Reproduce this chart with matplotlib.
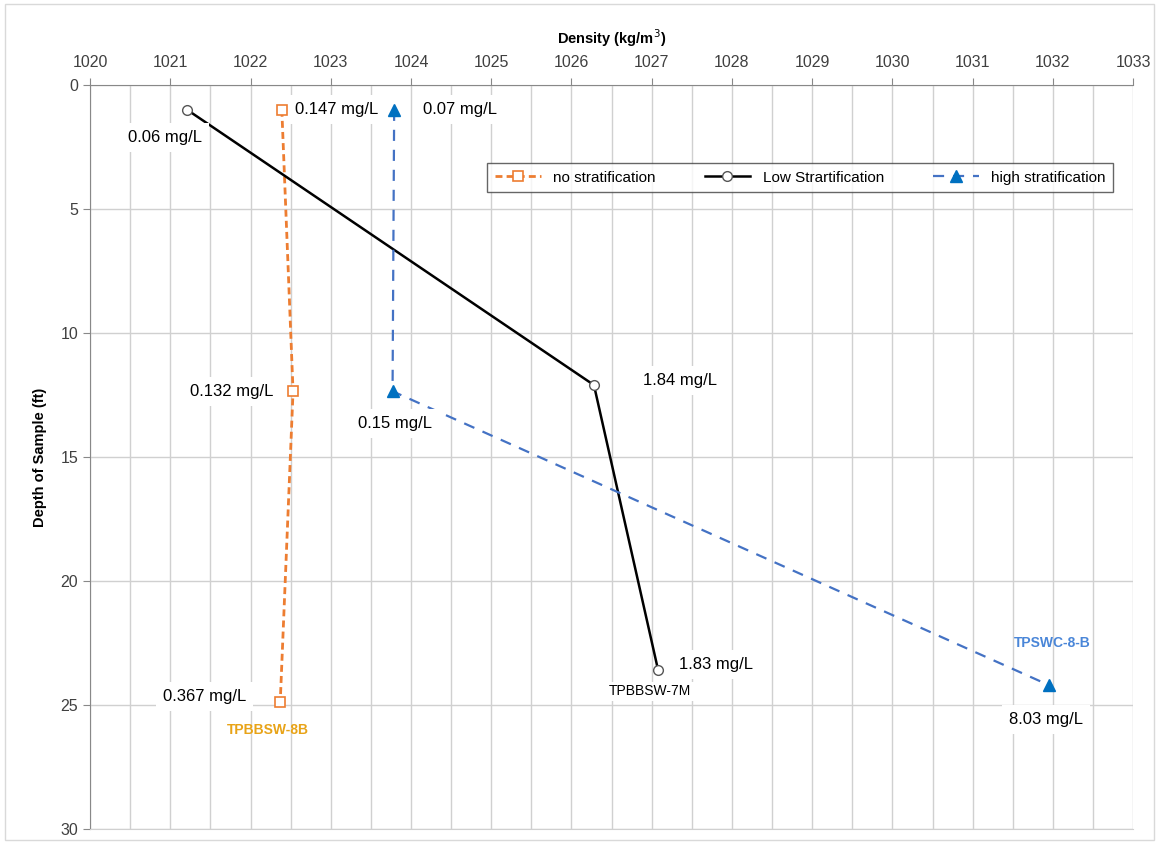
import matplotlib.pyplot as plt
from matplotlib.patches import Rectangle

plt.rcParams['font.family'] = ['Liberation Sans', 'DejaVu Sans']

# datos
no_strat_x = [1022.39, 1022.53, 1022.37]
no_strat_y = [1.0, 12.35, 24.9]
low_strat_x = [1021.21, 1026.28, 1027.08]
low_strat_y = [1.0, 12.1, 23.6]
high_strat_x = [1023.79, 1023.77, 1031.95]
high_strat_y = [1.0, 12.35, 24.2]

# etiquetas de concentracion
etiquetas = ['0.147 mg/L', '0.132 mg/L', '0.367 mg/L',
             '0.06 mg/L', '1.84 mg/L', '1.83 mg/L',
             '0.07 mg/L', '0.15 mg/L', '8.03 mg/L']
etiq_x = [1023.07, 1021.76, 1021.43,
          1020.93, 1027.35, 1027.80,
          1024.61, 1023.80, 1031.92]
etiq_y = [1.0, 12.35, 24.65,
          2.1, 11.9, 23.35,
          1.0, 13.65, 25.6]

fig = plt.figure(figsize=(11.59, 8.44), dpi=100)
ax = fig.add_axes([0.0777, 0.0178, 0.9, 0.8815])

# borde exterior
fig.patches.append(Rectangle((0.004, 0.005), 0.992, 0.99, transform=fig.transFigure,
                             fill=False, edgecolor='#d9d9d9', linewidth=1))

ax.plot(no_strat_x, no_strat_y, color='#ED7D31', linestyle=(0, (2.5, 1.5)), linewidth=2,
        marker='s', markersize=7, markerfacecolor='white', markeredgecolor='#ED7D31',
        markeredgewidth=1.2, label='no stratification', zorder=3)
ax.plot(low_strat_x, low_strat_y, color='black', linestyle='-', linewidth=1.8,
        marker='o', markersize=7, markerfacecolor='white', markeredgecolor='#555555',
        markeredgewidth=1, label='Low Strartification', zorder=3)
ax.plot(high_strat_x, high_strat_y, color='#4472C4', linestyle=(0, (5, 4)), linewidth=1.6,
        marker='^', markersize=8, markerfacecolor='#0070C0', markeredgecolor='#0070C0',
        label='high stratification', zorder=3)

for t, x, y in zip(etiquetas, etiq_x, etiq_y):
    ax.text(x, y, t, ha='center', va='center', fontsize=12, zorder=4,
            bbox=dict(facecolor='white', edgecolor='none', pad=5))

ax.text(1022.22, 26.0, 'TPBBSW-8B', color='#E8A317', fontsize=10, fontweight='bold',
        ha='center', va='center', zorder=4)
ax.text(1026.98, 24.45, 'TPBBSW-7M', color='black', fontsize=10,
        ha='center', va='center', zorder=4,
        bbox=dict(facecolor='white', edgecolor='none', pad=2))
ax.text(1031.99, 22.5, 'TPSWC-8-B', color='#4A86D8', fontsize=10, fontweight='bold',
        ha='center', va='center', zorder=4)

ax.set_xlim(1020, 1033)
ax.set_ylim(30, 0)
ax.set_xticks(range(1020, 1034))
ax.set_xticks([x + 0.5 for x in range(1020, 1033)], minor=True)
ax.set_yticks(range(0, 31, 5))
ax.xaxis.tick_top()
ax.xaxis.set_label_position('top')
ax.tick_params(axis='x', which='minor', length=0)
ax.tick_params(axis='both', which='major', labelsize=11.5, colors='#404040', length=5,
               color='#888888')
ax.tick_params(axis='x', pad=6)
ax.grid(True, which='both', axis='x', color='#d0d0d0', linewidth=1)
ax.grid(True, which='major', axis='y', color='#d0d0d0', linewidth=1)
ax.set_axisbelow(True)

ax.spines['right'].set_visible(False)
ax.spines['bottom'].set_color('#d0d0d0')
for s in ['left', 'top']:
    ax.spines[s].set_color('#888888')

ax.set_xlabel('Density (kg/m$^3$)', fontsize=10.5, fontweight='bold', labelpad=8)
ax.set_ylabel('Depth of Sample (ft)', fontsize=10.5, fontweight='bold', labelpad=10)

leg = ax.legend(loc='upper left', bbox_to_anchor=(0.381, 0.895), ncol=3, fontsize=11,
                frameon=True, fancybox=False, edgecolor='#404040', handlelength=3,
                columnspacing=3.2, borderpad=0.5, borderaxespad=0)
leg.get_frame().set_linewidth(1)

fig.savefig('out.png', dpi=100)
